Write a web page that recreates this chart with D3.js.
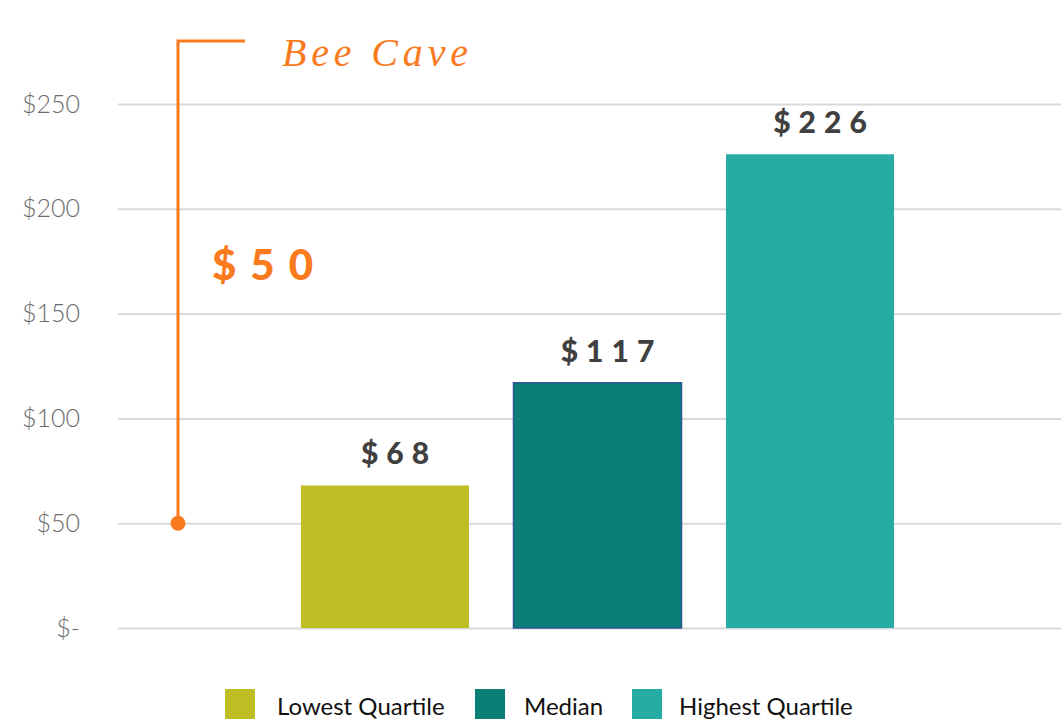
<!DOCTYPE html>
<html>
<head>
<meta charset="utf-8">
<script src="https://cdn.jsdelivr.net/npm/d3@7"></script>
<style>
  html, body { margin: 0; padding: 0; background: #ffffff; }
  svg { display: block; }
</style>
</head>
<body>
<div id="chart"></div>
<script>
// Rent per quartile, Bee Cave
const categories = ["Lowest Quartile", "Median", "Highest Quartile"];
const values = [68, 117, 226];
const colors = ["#BDBF24", "#0A7E77", "#26ABA5"];
const yTicks = [0, 50, 100, 150, 200, 250];
const tickLabels = ["$-", "$50", "$100", "$150", "$200", "$250"];
const markerLabel = "Bee Cave";
const markerValue = 50;

const W = 1061, H = 724;
const svg = d3.select("#chart").append("svg").attr("width", W).attr("height", H);

const y = d3.scaleLinear().domain([0, 250]).range([628, 104]);
const x = d3.scaleBand().domain(categories)
  .range([278.75, 916.25]).paddingInner(0.2094).paddingOuter(0.1047);

// Gridlines + y labels
const yAxis = d3.axisLeft(y).tickValues(yTicks)
  .tickSize(-(W - 118))
  .tickFormat((d, i) => tickLabels[i]);
const gAxis = svg.append("g").attr("transform", "translate(118,0)").call(yAxis);
gAxis.select(".domain").remove();
gAxis.selectAll(".tick line").attr("stroke", "#d9d9d9").attr("stroke-width", 2);
gAxis.selectAll(".tick text")
  .attr("x", -38).attr("dy", "0.32em")
  .attr("fill", "#6a6a6a")
  .style("font-family", "Lato, sans-serif")
  .style("font-weight", 300)
  .style("font-size", "25px");

// Bars
svg.append("g").selectAll("rect").data(values).join("rect")
  .attr("x", (d, i) => x(categories[i]))
  .attr("y", d => y(d))
  .attr("width", x.bandwidth())
  .attr("height", d => y(0) - y(d))
  .attr("fill", (d, i) => colors[i])
  .attr("stroke", (d, i) => i === 1 ? "#2F5597" : "none")
  .attr("stroke-width", 1.5);

// Value labels
svg.append("g").selectAll("text").data(values).join("text")
  .attr("x", (d, i) => x(categories[i]) + x.bandwidth() / 2 + 14)
  .attr("y", d => y(d) - 21)
  .attr("text-anchor", "middle")
  .attr("fill", "#404040")
  .style("font-family", "Lato, sans-serif")
  .style("font-weight", 900)
  .style("font-size", "30px")
  .style("letter-spacing", "8px")
  .text(d => "$" + d);

// Bee Cave marker
const orange = "#FA7A1E";
const mx = 178, topY = 41;
svg.append("path")
  .attr("d", d3.line()([[245, topY], [mx, topY], [mx, y(markerValue)]]))
  .attr("fill", "none").attr("stroke", orange).attr("stroke-width", 3);
svg.append("circle").attr("cx", mx).attr("cy", y(markerValue)).attr("r", 7.5).attr("fill", orange);
svg.append("text")
  .attr("x", 212).attr("y", 280)
  .attr("fill", orange)
  .style("font-family", "Lato, sans-serif")
  .style("font-weight", 900)
  .style("font-size", "42px")
  .style("letter-spacing", "14px")
  .text("$" + markerValue);
svg.append("text")
  .attr("x", 282).attr("y", 66)
  .attr("fill", orange)
  .attr("textLength", 186).attr("lengthAdjust", "spacing")
  .style("font-family", "'Liberation Serif', serif")
  .style("font-style", "italic")
  .style("font-size", "40px")
  .text(markerLabel);

// Legend
const legendX = [225, 475, 632];
const lg = svg.append("g").selectAll("g").data(categories).join("g")
  .attr("transform", (d, i) => `translate(${legendX[i]},689)`);
lg.append("rect").attr("width", 30).attr("height", 30).attr("fill", (d, i) => colors[i]);
lg.append("text")
  .attr("x", (d, i) => [52, 49, 47][i]).attr("y", 26)
  .attr("fill", "#111")
  .style("font-family", "Lato, sans-serif")
  .style("font-size", "24px")
  .text(d => d);
</script>
</body>
</html>
